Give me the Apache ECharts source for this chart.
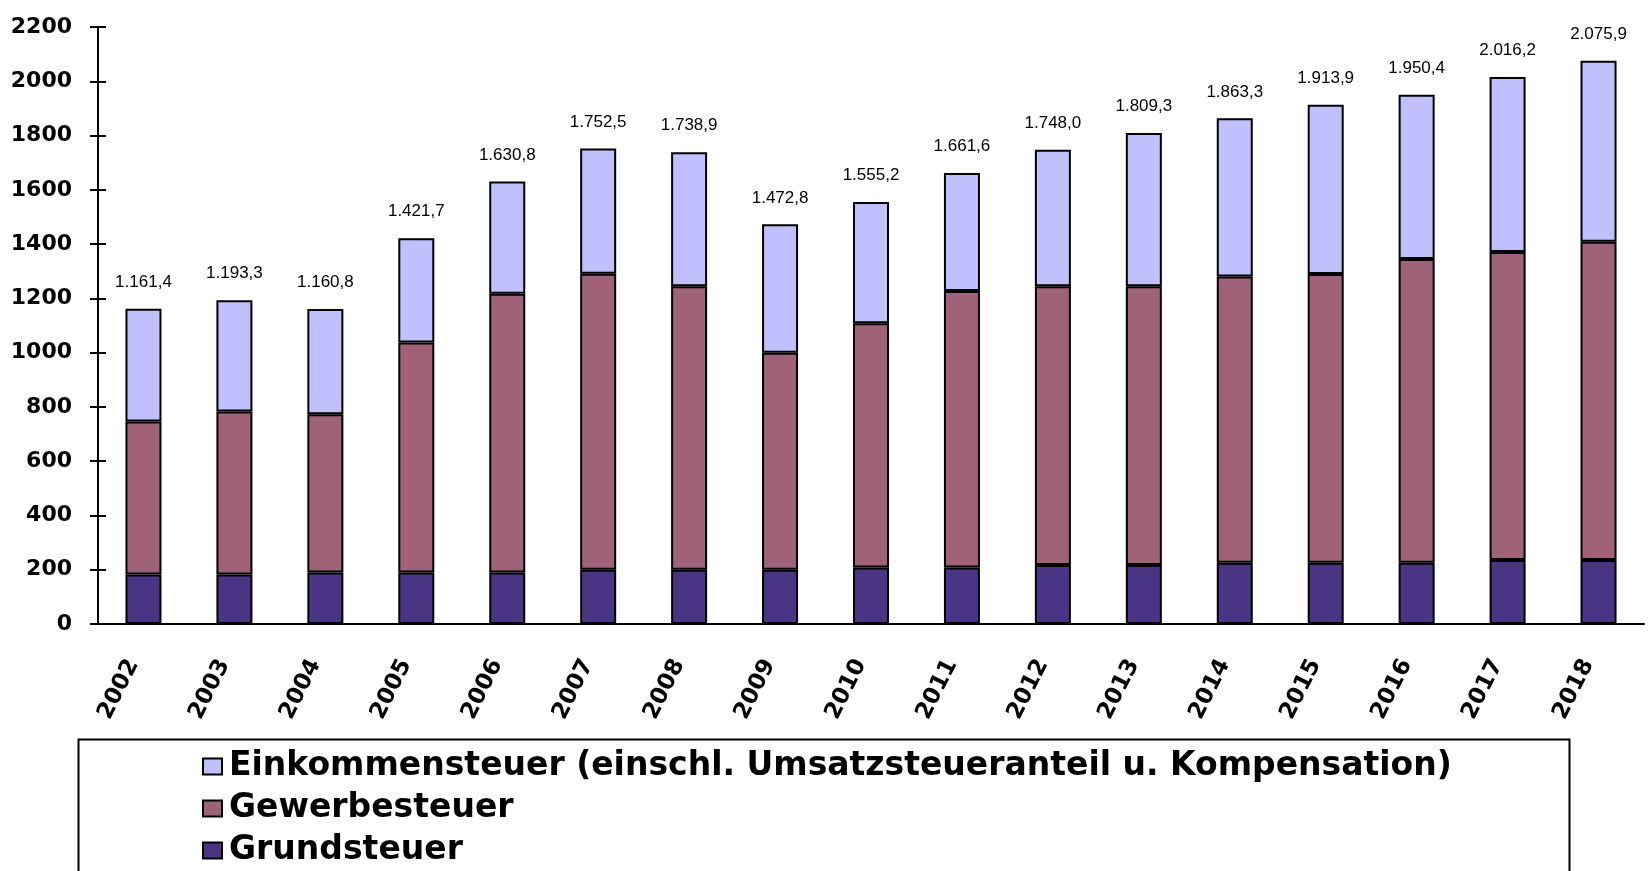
<!DOCTYPE html>
<html>
<head>
<meta charset="utf-8">
<title>Steuereinnahmen</title>
<script src="https://cdn.jsdelivr.net/npm/echarts@6/dist/echarts.min.js"></script>
<style>
    html, body { margin: 0; padding: 0; background: #fff; }
    #main { width: 1649px; height: 871px; }
</style>
</head>
<body>
<div id="main"></div>
<script>
// Jahre (x-Achse)
var years = ['2002','2003','2004','2005','2006','2007','2008','2009','2010','2011','2012','2013','2014','2015','2016','2017','2018'];

// Werte je Steuerart
var grundsteuer = [182, 182, 190, 190, 190, 200, 200, 200, 208, 208, 217, 217, 226, 226, 226, 236, 236];
var gewerbesteuer = [564, 601, 583, 847, 1027, 1091, 1045, 800, 900, 1019, 1028, 1028, 1055, 1064, 1119, 1135, 1173];
var einkommensteuer = [415.4, 410.3, 387.8, 384.7, 413.8, 461.5, 493.9, 472.8, 447.2, 434.6, 503.0, 564.3, 582.3, 623.9, 605.4, 645.2, 666.9];

// Summenbeschriftung über den Säulen
var summen = ['1.161,4','1.193,3','1.160,8','1.421,7','1.630,8','1.752,5','1.738,9','1.472,8','1.555,2','1.661,6','1.748,0','1.809,3','1.863,3','1.913,9','1.950,4','2.016,2','2.075,9'];

// Achsenbeschriftung y
var yTicks = [0, 200, 400, 600, 800, 1000, 1200, 1400, 1600, 1800, 2000, 2200];

var names = ['Einkommensteuer (einschl. Umsatzsteueranteil u. Kompensation)', 'Gewerbesteuer', 'Grundsteuer'];

var chart = echarts.init(document.getElementById('main'));

// breite, fette Schrift wie im Original
var boldFont = '"DejaVu Sans", sans-serif';
var labelFont = '"Liberation Sans", Arial, sans-serif';

var axisColor = { color: '#000', width: 2 };

var option = {
    animation: false,
    textStyle: { fontFamily: labelFont },
    grid: {
        left: 98,
        right: 5,
        top: 27,
        bottom: 247
    },
    //图例 - Legende unten
    legend: {
        orient: 'vertical',
        left: 197,
        top: 745,
        height: 160,
        itemGap: 9,
        itemWidth: 19,
        itemHeight: 16,
        icon: 'rect',
        data: names,
        textStyle: {
            fontSize: 33,
            fontWeight: 'bold',
            color: '#000',
            fontFamily: boldFont,
            padding: [0, 0, 0, 2]
        }
    },
    // Rahmen um die Legende
    graphic: [{
        type: 'rect',
        left: 76,
        top: 737,
        shape: { width: 1491, height: 200 },
        style: { fill: 'none', stroke: '#000', lineWidth: 2 },
        z: 0
    }],
    xAxis: [
        {
            type: 'category',
            data: years,
            axisLine: { lineStyle: axisColor },
            axisTick: { length: 9, lineStyle: axisColor },
            axisLabel: {
                rotate: 63,
                margin: 42,
                fontSize: 23,
                fontWeight: 'bold',
                color: '#000',
                fontFamily: boldFont,
                verticalAlign: 'bottom'
            }
        },
        {
            // nur Striche nach innen (Teilstriche kreuzen die Achse)
            type: 'category',
            data: years,
            position: 'bottom',
            axisLine: { show: false },
            axisTick: { inside: true, length: 8, lineStyle: axisColor },
            axisLabel: { show: false }
        }
    ],
    yAxis: [
        {
            type: 'value',
            min: yTicks[0],
            max: yTicks[yTicks.length - 1],
            interval: 200,
            splitLine: { show: false },
            axisLine: { show: true, lineStyle: axisColor },
            axisTick: { show: true, length: 8, lineStyle: axisColor },
            axisLabel: {
                margin: 26,
                fontSize: 22,
                fontWeight: 'bold',
                color: '#000',
                fontFamily: boldFont,
                formatter: function (v) { return String(v); }
            }
        },
        {
            type: 'value',
            position: 'left',
            min: yTicks[0],
            max: yTicks[yTicks.length - 1],
            interval: 200,
            splitLine: { show: false },
            axisLine: { show: false },
            axisTick: { show: true, inside: true, length: 8, lineStyle: axisColor },
            axisLabel: { show: false }
        }
    ],
    series: [
        {
            name: names[2],
            type: 'bar',
            stack: 'steuer',
            barWidth: 36,
            data: grundsteuer,
            itemStyle: { color: '#4A3484', borderColor: '#000', borderWidth: 2 }
        },
        {
            name: names[1],
            type: 'bar',
            stack: 'steuer',
            barWidth: 36,
            data: gewerbesteuer,
            itemStyle: { color: '#A06278', borderColor: '#000', borderWidth: 2 }
        },
        {
            name: names[0],
            type: 'bar',
            stack: 'steuer',
            barWidth: 36,
            data: einkommensteuer,
            itemStyle: { color: '#C0C0FF', borderColor: '#000', borderWidth: 2 },
            label: {
                show: true,
                position: 'top',
                distance: 18,
                fontSize: 17,
                color: '#000',
                fontFamily: labelFont,
                formatter: function (p) {
                    return summen[p.dataIndex];
                }
            }
        }
    ]
};

chart.setOption(option);
</script>
</body>
</html>
